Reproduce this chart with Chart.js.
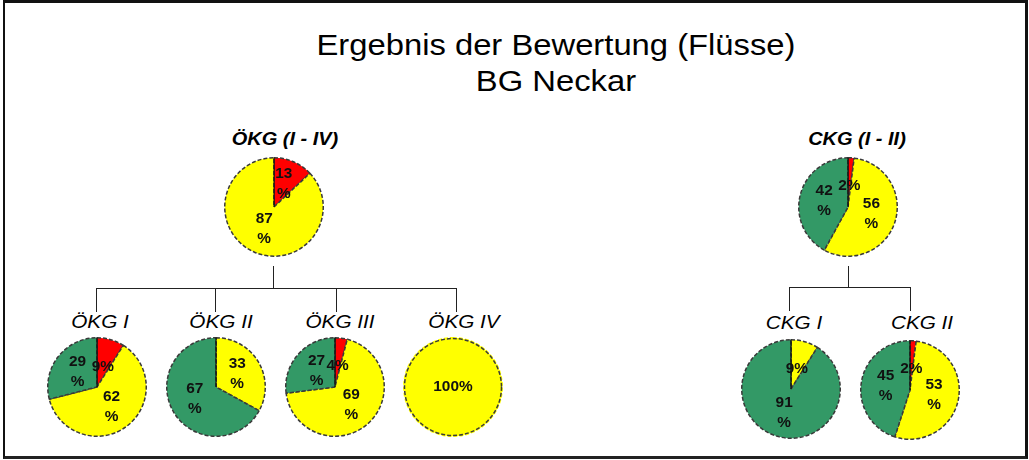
<!DOCTYPE html>
<html>
<head>
<meta charset="utf-8">
<script src="https://cdn.jsdelivr.net/npm/chart.js@4.4.1/dist/chart.umd.min.js"></script>
<style>
    body { margin: 0; background: #ffffff; width: 1029px; height: 460px; overflow: hidden; position: relative; font-family: "Liberation Sans", Arial, sans-serif; }
    #frame { position: absolute; left: 3px; top: 0px; width: 1020px; height: 453px; border-left: 2px solid #111; border-right: 3px solid #111; border-top: 3px solid #111; border-bottom: 3px solid #222; }
    .txt { position: absolute; white-space: nowrap; line-height: 1; color: #000; }
    .line { position: absolute; background: #222; }
    canvas { position: absolute; }
</style>
</head>
<body>
<div id="frame"></div>
<script>
// chart values (percent per group)
const groupNames = ["ÖKG (I - IV)", "ÖKG I", "ÖKG II", "ÖKG III", "ÖKG IV", "CKG (I - II)", "CKG I", "CKG II"];
const redValues = [13, 9, 0, 4, 0, 2, 0, 2];
const yellowValues = [87, 62, 33, 69, 100, 56, 9, 53];
const greenValues = [0, 29, 67, 27, 0, 42, 91, 45];
const sliceColors = ["#ff0000", "#ffff00", "#339966"];

const titleLines = ["Ergebnis der Bewertung (Flüsse)", "BG Neckar"];

// where each pie sits on the page
const pieCenters = [[274, 207], [97, 387], [216, 387], [335, 387], [453, 387], [848, 207], [791, 389], [910, 390]];
const pieSize = 100;
const outline = "#3a3a3a";

/*
put a text centred on x with its baseline at y
*/
function addText(text, x, baseline, size, style, stretch) {
    var el = document.createElement("div");
    el.className = "txt";
    el.textContent = text;
    el.style.font = style + " " + size + "px 'Liberation Sans', Arial, sans-serif";
    el.style.lineHeight = "1";
    el.style.left = x + "px";
    el.style.top = (baseline - 0.8465 * size) + "px";
    el.style.transform = "translateX(-50%) scaleX(" + stretch + ")";
    document.body.appendChild(el);
}

function addLine(x, y, w, h) {
    var el = document.createElement("div");
    el.className = "line";
    el.style.left = x + "px";
    el.style.top = y + "px";
    el.style.width = w + "px";
    el.style.height = h + "px";
    document.body.appendChild(el);
}

// main heading
addText(titleLines[0], 556, 56, 29, "normal", 1.13);
addText(titleLines[1], 556, 92, 29, "normal", 1.13);

// group headings
addText(groupNames[0], 285, 145, 18, "italic bold", 1.11);
addText(groupNames[5], 857, 145, 18, "italic bold", 1.11);
addText(groupNames[1], 100, 328, 18, "italic", 1.15);
addText(groupNames[2], 221, 328, 18, "italic", 1.15);
addText(groupNames[3], 340, 328, 18, "italic", 1.15);
addText(groupNames[4], 464, 328, 18, "italic", 1.15);
addText(groupNames[6], 794, 329, 18, "italic", 1.15);
addText(groupNames[7], 922, 329, 18, "italic", 1.15);

// tree connectors
addLine(273, 266, 1, 23);
addLine(96, 288, 361, 1);
addLine(96, 288, 1, 24);
addLine(215, 288, 1, 24);
addLine(336, 288, 1, 24);
addLine(456, 288, 1, 24);
addLine(848, 266, 1, 21);
addLine(789, 287, 122, 1);
addLine(789, 287, 1, 24);
addLine(910, 287, 1, 24);

/*
plugin that writes the percent labels into the slices
*/
const sliceLabels = {
    id: "sliceLabels",
    afterDatasetsDraw(chart) {
        const ctx = chart.ctx;
        const meta = chart.getDatasetMeta(0);
        const values = chart.data.datasets[0].data;
        const a = meta.data[0];
        ctx.save();
        if (meta.data.length > 1) {
            // solid radius at twelve o'clock
            ctx.strokeStyle = "#000";
            ctx.lineWidth = 1;
            ctx.beginPath();
            ctx.moveTo(a.x, a.y);
            ctx.lineTo(a.x, a.y - a.outerRadius);
            ctx.stroke();
        } else {
            // a whole circle: only the dashed rim, no radius
            ctx.strokeStyle = outline;
            ctx.lineWidth = 1.5;
            ctx.setLineDash([4, 2]);
            ctx.beginPath();
            ctx.arc(a.x, a.y, a.outerRadius - 0.75, 0, Math.PI * 2);
            ctx.stroke();
            ctx.setLineDash([]);
        }
        ctx.fillStyle = "#111";
        ctx.font = "bold 14px 'Liberation Sans', Arial, sans-serif";
        ctx.textAlign = "center";
        ctx.textBaseline = "middle";
        meta.data.forEach((arc, i) => {
            const v = values[i];
            const mid = (arc.startAngle + arc.endAngle) / 2;
            let x = arc.x, y = arc.y;
            if (v < 100) {
                const r = arc.outerRadius * (v < 10 ? 0.42 : 0.5);
                x += Math.cos(mid) * r;
                y += Math.sin(mid) * r;
            }
            ctx.save();
            ctx.translate(x, y);
            ctx.scale(1.1, 1);
            if (v < 10 || v == 100) {
                ctx.fillText(v + "%", 0, 0);
            } else {
                ctx.fillText(String(v), 0, -10);
                ctx.fillText("%", 0, 10);
            }
            ctx.restore();
        });
        ctx.restore();
    }
};

function makePie(i) {
    var values = [];
    var colors = [];
    [redValues[i], yellowValues[i], greenValues[i]].forEach((v, k) => {
        if (v > 0) {
            values.push(v);
            colors.push(sliceColors[k]);
        }
    });
    var canvas = document.createElement("canvas");
    canvas.width = pieSize;
    canvas.height = pieSize;
    canvas.style.width = pieSize + "px";
    canvas.style.height = pieSize + "px";
    canvas.style.left = (pieCenters[i][0] - pieSize / 2) + "px";
    canvas.style.top = (pieCenters[i][1] - pieSize / 2) + "px";
    document.body.appendChild(canvas);

    var single = values.length == 1;
    new Chart(canvas, {
        type: "pie",
        data: {
            labels: values.map((v, k) => groupNames[i] + " " + k),
            datasets: [{
                data: values,
                backgroundColor: colors,
                borderColor: single ? colors[0] : outline,
                borderWidth: 1.5,
                borderDash: [4, 2]
            }]
        },
        options: {
            responsive: false,
            animation: false,
            layout: { padding: 0 },
            plugins: {
                legend: { display: false },
                tooltip: { enabled: false }
            }
        },
        plugins: [sliceLabels]
    });
}

for (let i = 0; i < groupNames.length; i++) {
    makePie(i);
}
</script>
</body>
</html>
